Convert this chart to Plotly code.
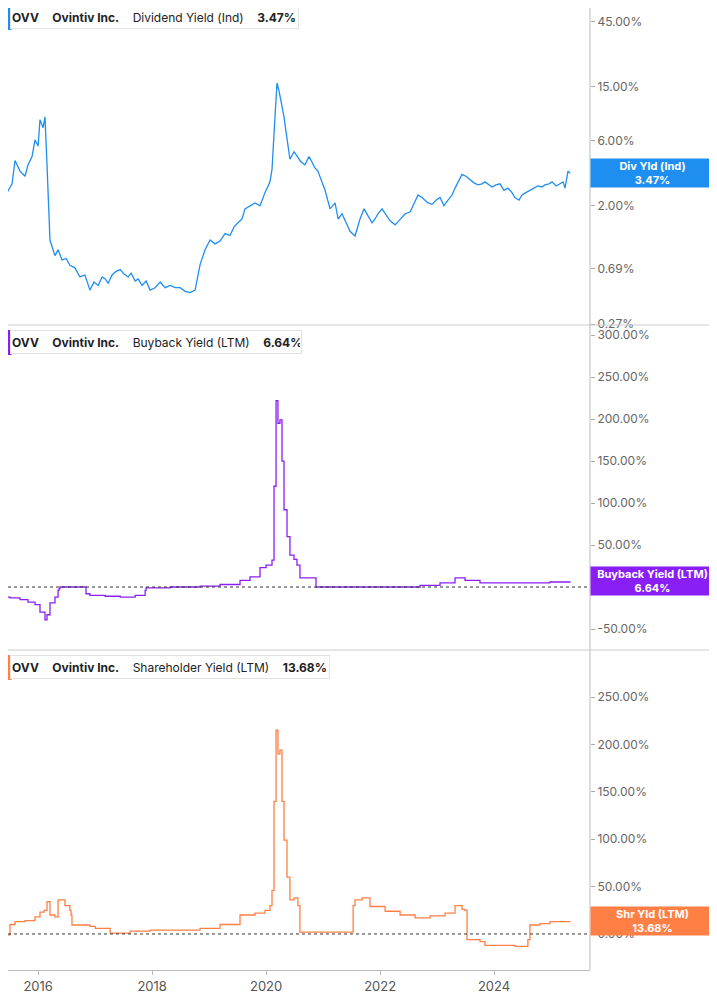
import plotly.graph_objects as go
import math, datetime

def yr(x): return 2016 + (x - 38) / 57.0
def todate(y):
    yi = int(y); frac = y - yi
    d = datetime.date(yi, 1, 1) + datetime.timedelta(days=int(frac * 365))
    return d.isoformat()

div_x = [0,8,12,15,20,25,28,32,35,38,40,43,45,47,50,55,58,62,66,70,75,80,85,90,94,98,102,105,108,112,116,120,124,128,131,135,138,142,146,150,155,160,165,170,175,180,185,190,195,200,205,210,215,220,225,230,234,238,242,245,250,255,260,265,270,272,275,277,279,282,284,286,288,290,294,297,301,305,309,312,315,318,322,325,330,335,338,342,346,350,355,360,364,368,372,375,378,382,386,390,395,400,405,410,414,418,422,425,428,432,436,440,444,448,452,455,458,462,466,470,474,478,482,485,489,492,496,500,504,508,512,515,519,522,526,530,534,538,542,545,549,552,556,560,563,565,568,570]
div_v = [2.03,2.6,2.9,4.3,3.6,3.3,4.0,4.6,6.1,5.5,8.6,7.5,9.0,4.0,1.12,0.86,0.95,0.8,0.82,0.73,0.7,0.6,0.62,0.48,0.55,0.52,0.6,0.58,0.54,0.62,0.66,0.68,0.63,0.6,0.64,0.56,0.58,0.52,0.56,0.48,0.5,0.55,0.5,0.52,0.5,0.5,0.47,0.46,0.48,0.74,0.95,1.12,1.05,1.1,1.25,1.21,1.4,1.5,1.6,1.9,2.0,2.1,2.0,2.5,3.0,3.7,9.0,16,14,11,9,7,5.5,4.4,5.0,4.6,4.2,4.0,4.6,4.2,3.8,3.6,3.0,2.6,1.9,2.1,1.6,1.75,1.5,1.3,1.2,1.6,1.9,1.7,1.5,1.6,1.75,1.9,1.7,1.55,1.45,1.6,1.75,1.8,2.1,2.4,2.3,2.2,2.1,2.05,2.2,2.3,2.0,2.2,2.4,2.7,3.0,3.4,3.3,3.1,2.95,2.85,2.9,3.0,2.85,2.75,2.85,2.9,2.6,2.7,2.5,2.3,2.2,2.4,2.5,2.6,2.7,2.8,2.75,2.85,2.9,3.0,2.8,2.9,3.0,2.7,3.6,3.47]

bb_x = [0,10,20,28,35,40,45,47,50,55,58,59,60,85,86,90,105,120,135,145,146,170,200,220,240,250,260,266,272,274,276,278,280,282,284,287,290,294,297,300,315,316,360,420,440,455,465,480,500,530,550,570]
bb_v = [-12,-13,-15,-18,-21,-30,-39,-33,-19,-12,-4,-2,0,0,-8,-10,-11,-12,-10,-4,-1,0,1,3,8,12,23,26,32,120,222,195,199,150,92,60,38,33,26,11,11,0,0,2,5,11,8,5,5,5,6,6.64]

sh_x = [0,3,5,10,15,25,35,40,44,47,50,55,58,60,65,70,71,72,90,95,110,130,150,175,200,220,240,255,265,270,272,274,276,278,280,282,284,287,290,294,298,300,320,350,353,355,362,370,385,400,415,430,445,455,462,465,467,480,485,500,515,527,528,530,540,550,560,570]
sh_v = [9.5,9,-1,10,13,14,18,23,25,34,20,18,36,36,30,25,20,9.5,8,6,1,3,4,4,6,10,20,22,25,30,46,140,215,190,194,140,99,60,36,38,30,2,2,2,30,36,38,29,24,20,17,19,22,30,26,25,-6,-8,-12,-12,-13,-13,-6,9.5,11,13,13,13.68]

div_ticks = [45,15,6,2,0.69,0.27]
div_tick_text = ["45.00%","15.00%","6.00%","2.00%","0.69%","0.27%"]
bb_ticks = [300,250,200,150,100,50,0,-50]
bb_tick_text = ["300.00%","250.00%","200.00%","150.00%","100.00%","50.00%","0.00%","-50.00%"]
sh_ticks = [250,200,150,100,50,0]
sh_tick_text = ["250.00%","200.00%","150.00%","100.00%","50.00%","0.00%"]
year_ticks = [2016,2018,2020,2022,2024]

BLUE, PURPLE, ORANGE = "#1f8ef1", "#8a1ff5", "#ff7f45"

fig = go.Figure()
fig.add_trace(go.Scatter(x=[todate(yr(v)) for v in div_x], y=div_v, mode="lines", line=dict(color=BLUE, width=1.3), yaxis="y"))
fig.add_trace(go.Scatter(x=[todate(yr(v)) for v in bb_x], y=bb_v, mode="lines", line=dict(color=PURPLE, width=1.3), yaxis="y2", line_shape="hv"))
fig.add_trace(go.Scatter(x=[todate(yr(v)) for v in sh_x], y=sh_v, mode="lines", line=dict(color=ORANGE, width=1.3), yaxis="y3", line_shape="hv"))

OFF = 8
H = 962.0
def fy(screen_y): return 1 - (screen_y - OFF) / H
d1 = [fy(325), 1]; d2 = [fy(650), fy(325)]; d3 = [0, fy(650)]
tickfont = dict(family="Inter, Roboto, sans-serif", size=12, color="#666")
def yax(dom, vals, txt, rng, typ="linear"):
    return dict(domain=dom, side="right", tickvals=vals, ticktext=txt, range=rng, type=typ,
                showgrid=False, zeroline=False, tickfont=tickfont, ticks="outside", ticklen=4,
                tickcolor="#aaa", showline=False, anchor="x")
fig.update_layout(
    width=717 - OFF, height=1005 - OFF, margin=dict(l=0, r=127, t=0, b=35),
    paper_bgcolor="white", plot_bgcolor="white", showlegend=False,
    xaxis=dict(range=[todate(yr(OFF)), todate(yr(590))], tickvals=[f"{y}-01-01" for y in year_ticks],
               ticktext=[str(y) for y in year_ticks], showgrid=False, zeroline=False, anchor="y3",
               tickfont=dict(family="Inter, Roboto, sans-serif", size=13, color="#555"),
               showline=True, linecolor="#bbb", ticks="outside", tickcolor="#bbb", ticklen=4),
    yaxis=yax(d1, div_ticks, div_tick_text, [math.log10(0.266), 1.814 - OFF / 136.0], "log"),
    yaxis2=yax(d2, bb_ticks, bb_tick_text, [-75, 312]),
    yaxis3=yax(d3, sh_ticks, sh_tick_text, [-38, 299.6]),
)
PW = 590.0 - OFF
def fx(screen_x): return (screen_x - OFF) / PW
shapes = [
    dict(type="line", xref="paper", yref="paper", x0=0, x1=1.3, y0=d1[0], y1=d1[0], line=dict(color="#ccc", width=1)),
    dict(type="line", xref="paper", yref="paper", x0=0, x1=1.3, y0=d2[0], y1=d2[0], line=dict(color="#ccc", width=1)),
    dict(type="line", xref="paper", yref="paper", x0=1, x1=1, y0=0, y1=1, line=dict(color="#bbb", width=1)),
    dict(type="line", xref="paper", yref="y2", x0=0, x1=1, y0=0, y1=0, line=dict(color="#333", width=1, dash="dot")),
    dict(type="line", xref="paper", yref="y3", x0=0, x1=1, y0=0, y1=0, line=dict(color="#333", width=1, dash="dot")),
]
anns = []
legends = [(5, BLUE, "<b>OVV</b>    <b>Ovintiv Inc.</b>    Dividend Yield (Ind)    <b>3.47%</b>", 285),
           (330, PURPLE, "<b>OVV</b>    <b>Ovintiv Inc.</b>    Buyback Yield (LTM)    <b>6.64%</b>", 288),
           (655, ORANGE, "<b>OVV</b>    <b>Ovintiv Inc.</b>    Shareholder Yield (LTM)    <b>13.68%</b>", 316)]
for ytop, col, txt, w in legends:
    anns.append(dict(xref="paper", yref="paper", x=0.004, y=fy(ytop), xanchor="left", yanchor="top",
                     text=txt, showarrow=False, align="left", width=w, height=20,
                     bordercolor="#e3e3e3", borderwidth=1, bgcolor="white",
                     font=dict(family="Inter, Roboto, sans-serif", size=12, color="#222")))
    shapes.append(dict(type="rect", xref="paper", yref="paper", x0=0, x1=0.006,
                       y0=fy(ytop + 25), y1=fy(ytop), fillcolor=col, line=dict(width=0)))
tags = [("y", math.log10(3.47), BLUE, "<b>Div Yld (Ind)</b><br><b>3.47%</b>"),
        ("y2", 6.64, PURPLE, "<b>Buyback Yield (LTM)</b><br><b>6.64%</b>"),
        ("y3", 13.68, ORANGE, "<b>Shr Yld (LTM)</b><br><b>13.68%</b>")]
for yref, yv, col, txt in tags:
    anns.append(dict(xref="paper", yref=yref, x=1, y=yv, xanchor="left", yanchor="middle", text=txt,
                     showarrow=False, bgcolor=col, width=121, height=26,
                     font=dict(family="Inter, Roboto, sans-serif", size=11, color="white")))
fig.update_layout(shapes=shapes, annotations=anns)
fig.write_html("out.html")
